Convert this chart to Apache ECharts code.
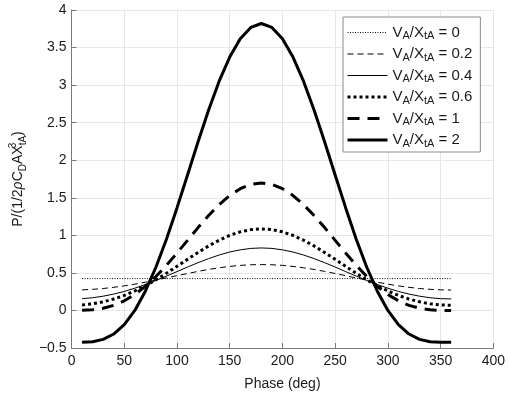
<!DOCTYPE html>
<html>
<head>
<meta charset="utf-8">
<script src="https://cdn.jsdelivr.net/npm/echarts@6/dist/echarts.min.js"></script>
<style>
  html, body { margin: 0; padding: 0; background: #fff; }
  #chart { width: 508px; height: 396px; }
</style>
</head>
<body>
<div id="chart"></div>
<script>
// phase angle (deg)
var phase = [10, 20, 30, 40, 50, 60, 70, 80, 90, 100, 110, 120, 130, 140, 150, 160, 170, 180,
  190, 200, 210, 220, 230, 240, 250, 260, 270, 280, 290, 300, 310, 320, 330, 340, 350, 360];

var ratios = ['0', '0.2', '0.4', '0.6', '1', '2'];

// normalised power for each V_A/X_tA
var pR0 = [0.424, 0.424, 0.424, 0.424, 0.424, 0.424, 0.424, 0.424, 0.424, 0.424, 0.424, 0.424,
  0.424, 0.424, 0.424, 0.424, 0.424, 0.424, 0.424, 0.424, 0.424, 0.424, 0.424, 0.424,
  0.424, 0.424, 0.424, 0.424, 0.424, 0.424, 0.424, 0.424, 0.424, 0.424, 0.424, 0.424];
var pR02 = [0.274, 0.281, 0.292, 0.308, 0.327, 0.350, 0.376, 0.404, 0.433, 0.463, 0.492, 0.520,
  0.546, 0.568, 0.586, 0.600, 0.608, 0.611, 0.608, 0.600, 0.586, 0.568, 0.546, 0.520,
  0.492, 0.463, 0.433, 0.404, 0.376, 0.350, 0.327, 0.308, 0.292, 0.281, 0.274, 0.272];
var pR04 = [0.157, 0.169, 0.190, 0.218, 0.253, 0.296, 0.345, 0.399, 0.457, 0.517, 0.578, 0.636,
  0.690, 0.738, 0.778, 0.807, 0.826, 0.832, 0.826, 0.807, 0.778, 0.738, 0.690, 0.636,
  0.578, 0.517, 0.457, 0.399, 0.345, 0.296, 0.253, 0.218, 0.190, 0.169, 0.157, 0.153];
var pR06 = [0.073, 0.089, 0.115, 0.152, 0.200, 0.259, 0.329, 0.408, 0.495, 0.587, 0.681, 0.772,
  0.859, 0.935, 0.999, 1.047, 1.076, 1.086, 1.076, 1.047, 0.999, 0.935, 0.859, 0.772,
  0.681, 0.587, 0.495, 0.408, 0.329, 0.259, 0.200, 0.152, 0.115, 0.089, 0.073, 0.068];
var pR1 = [0.001, 0.009, 0.029, 0.068, 0.128, 0.212, 0.320, 0.451, 0.600, 0.763, 0.933, 1.103,
  1.264, 1.409, 1.530, 1.621, 1.678, 1.698, 1.678, 1.621, 1.530, 1.409, 1.264, 1.103,
  0.933, 0.763, 0.600, 0.451, 0.320, 0.212, 0.128, 0.068, 0.029, 0.009, 0.001, 0];
var pR2 = [-0.424, -0.416, -0.385, -0.314, -0.189, 0, 0.256, 0.575, 0.949, 1.365, 1.804, 2.246,
  2.669, 3.052, 3.373, 3.617, 3.768, 3.820, 3.768, 3.617, 3.373, 3.052, 2.669, 2.246,
  1.804, 1.365, 0.949, 0.575, 0.256, 0, -0.189, -0.314, -0.385, -0.416, -0.424, -0.424];

var xTicks = [0, 50, 100, 150, 200, 250, 300, 350, 400];
var yTicks = [-0.5, 0, 0.5, 1, 1.5, 2, 2.5, 3, 3.5, 4];

var values = [pR0, pR02, pR04, pR06, pR1, pR2];
var styles = [
  { width: 1, type: [1, 1.5] },
  { width: 1, type: [6, 4] },
  { width: 1, type: 'solid' },
  { width: 3, type: [3, 3] },
  { width: 3, type: [12, 8] },
  { width: 3, type: 'solid' }
];

var font = 'Liberation Sans, Arial, sans-serif';
var ink = '#1a1a1a';

function pairs(ys) {
  var out = [];
  for (var i = 0; i < phase.length; i++) {
    out.push([phase[i], ys[i]]);
  }
  return out;
}

var series = [];
var legendData = [];
for (var k = 0; k < ratios.length; k++) {
  var ls = { color: '#000', width: styles[k].width, type: styles[k].type, cap: 'butt' };
  series.push({
    name: ratios[k],
    type: 'line',
    data: pairs(values[k]),
    symbol: 'none',
    showSymbol: false,
    silent: true,
    lineStyle: ls,
    itemStyle: { color: '#000' }
  });
  legendData.push({ name: ratios[k], lineStyle: ls });
}

var chart = echarts.init(document.getElementById('chart'));

var option = {
  animation: false,
  backgroundColor: '#fff',
  grid: { left: 62, right: 13, top: 10, bottom: 47 },
  legend: {
    orient: 'vertical',
    left: 343,
    top: 17,
    itemWidth: 40,
    itemHeight: 14,
    itemGap: 5,
    padding: [8, 8, 3, 3],
    backgroundColor: '#fff',
    borderColor: '#8a8a8a',
    borderWidth: 1,
    borderRadius: 0,
    itemStyle: { color: 'rgba(0,0,0,0)', borderWidth: 0 },
    data: legendData,
    formatter: function (name) {
      return '{n|V}{s|A}{n|/X}{s|tA}{n| = ' + name + '}';
    },
    textStyle: {
      color: '#000',
      rich: {
        n: { fontSize: 15, fontFamily: font, color: ink, lineHeight: 18 },
        s: { fontSize: 11, fontFamily: font, color: ink, lineHeight: 10, verticalAlign: 'bottom' }
      }
    }
  },
  xAxis: {
    type: 'value',
    min: xTicks[0],
    max: xTicks[xTicks.length - 1],
    interval: 50,
    name: 'Phase (deg)',
    nameLocation: 'middle',
    nameGap: 29,
    nameTextStyle: { fontSize: 14, fontFamily: font, color: ink },
    axisLine: { onZero: false, lineStyle: { color: '#7a7a7a', width: 1 } },
    axisTick: { inside: true, length: 5, lineStyle: { color: '#7a7a7a' } },
    axisLabel: { fontSize: 14, fontFamily: font, color: ink, margin: 6 },
    splitLine: { show: true, lineStyle: { color: '#e6e6e6', width: 1 } }
  },
  yAxis: {
    type: 'value',
    min: yTicks[0],
    max: yTicks[yTicks.length - 1],
    interval: 0.5,
    name: '{n|P/(1/2}{g|ρ}{n|C}{s|D}{n|AX}{p|3}{s|tA}{n|)}',
    nameLocation: 'middle',
    nameRotate: 90,
    nameGap: 31,
    nameTextStyle: {
      color: ink,
      rich: {
        n: { fontSize: 14, fontFamily: font, color: ink, lineHeight: 20 },
        g: { fontSize: 14, fontFamily: font, fontStyle: 'italic', color: ink, lineHeight: 20 },
        s: { fontSize: 10, fontFamily: font, color: ink, lineHeight: 10, verticalAlign: 'bottom' },
        p: { fontSize: 10, fontFamily: font, color: ink, lineHeight: 10, verticalAlign: 'top', width: 0 }
      }
    },
    axisLine: { show: true, onZero: false, lineStyle: { color: '#7a7a7a', width: 1 } },
    axisTick: { show: true, inside: true, length: 5, lineStyle: { color: '#7a7a7a' } },
    axisLabel: {
      fontSize: 14, fontFamily: font, color: ink, margin: 5,
      formatter: function (v) { return String(v).replace('-', '\u2212'); }
    },
    splitLine: { show: true, lineStyle: { color: '#e6e6e6', width: 1 } }
  },
  series: series
};

chart.setOption(option);
</script>
</body>
</html>
